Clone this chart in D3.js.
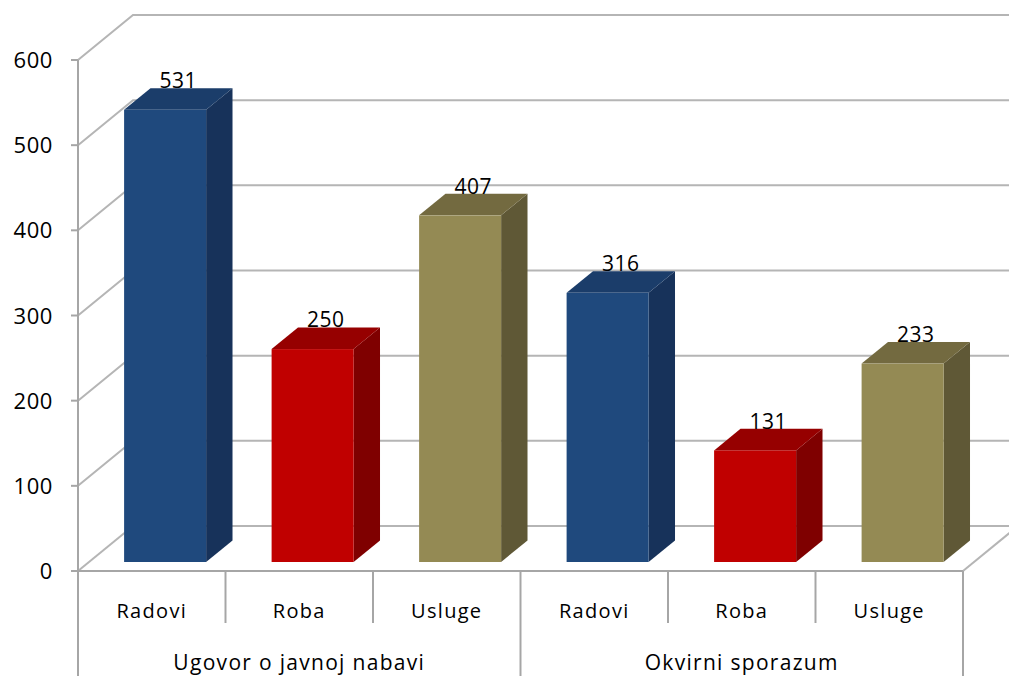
<!DOCTYPE html>
<html>
<head>
<meta charset="utf-8">
<script src="https://cdn.jsdelivr.net/npm/d3@7"></script>
<style>
  html, body { margin: 0; padding: 0; background: #fff; }
  svg { display: block; }
  text { font-family: "Open Sans", Lato, sans-serif; fill: #000; }
</style>
</head>
<body>
<svg id="chart" width="1009" height="678"></svg>
<script>
// Contract counts by type, grouped by procedure
const groups = ["Ugovor o javnoj nabavi", "Okvirni sporazum"];
const categories = ["Radovi", "Roba", "Usluge"];
const valuesUgovor = [531, 250, 407];
const valuesOkvirni = [316, 131, 233];
const yTicks = [0, 100, 200, 300, 400, 500, 600];

const palette = {
  Radovi: { front: "#1f497d", side: "#17325a", top: "#1b3d6a" },
  Roba:   { front: "#c00000", side: "#7f0000", top: "#960000" },
  Usluge: { front: "#948a54", side: "#5f5836", top: "#736a40" }
};

const rows = [];
groups.forEach((g, gi) => {
  const vals = gi === 0 ? valuesUgovor : valuesOkvirni;
  categories.forEach((c, ci) => rows.push({ key: g + "|" + c, group: g, cat: c, value: vals[ci] }));
});

const svg = d3.select("#chart");

// Front plane geometry
const left = 78, right = 963, floorY = 571, topY = 60;
const depthX = 55, depthY = -45;   // full depth of the box
const y = d3.scaleLinear().domain([0, 600]).range([floorY, topY]);
const x = d3.scaleBand().domain(rows.map(d => d.key)).range([left, right]);
const gx = d3.scaleBand().domain(groups).range([left, right]);

const off = t => [depthX * t, depthY * t];
const grid = "#b5b5b5";

// Back wall and left wall gridlines
const walls = svg.append("g").attr("stroke", grid).attr("stroke-width", 2).attr("fill", "none");
yTicks.forEach(v => {
  const yy = y(v);
  if (v > 0) {
    walls.append("path").attr("d", `M${left},${yy} L${left + depthX},${yy + depthY} L1012,${yy + depthY}`);
  } else {
    walls.append("path").attr("d", `M${left + depthX},${yy + depthY} L1012,${yy + depthY}`);
    walls.append("path").attr("d", `M${left},${yy} L${left + depthX},${yy + depthY}`);
    walls.append("path").attr("d", `M${right},${yy} L${right + depthX},${yy + depthY}`);
  }
});

// 3D bars
const d0 = 0.2, d1 = 0.68;
const bars = svg.append("g");
rows.forEach(d => {
  const col = palette[d.cat];
  const bw = x.bandwidth();
  const fx0 = x(d.key) + bw * 0.238;
  const fx1 = fx0 + bw * 0.556;
  const [ax, ay] = off(d0);
  const [bx, by] = off(d1);
  const yt = y(d.value), yb = y(0);
  const g = bars.append("g");
  // right side face
  g.append("path").attr("fill", col.side)
    .attr("d", `M${fx1 + ax},${yb + ay} L${fx1 + bx},${yb + by} L${fx1 + bx},${yt + by} L${fx1 + ax},${yt + ay} Z`);
  // top face
  g.append("path").attr("fill", col.top)
    .attr("d", `M${fx0 + ax},${yt + ay} L${fx1 + ax},${yt + ay} L${fx1 + bx},${yt + by} L${fx0 + bx},${yt + by} Z`);
  // front face
  g.append("rect").attr("fill", col.front)
    .attr("x", fx0 + ax).attr("y", yt + ay).attr("width", fx1 - fx0).attr("height", yb - yt);
  // value label above the top face
  const [mx] = off((d0 + d1) / 2);
  g.append("text").attr("x", (fx0 + fx1) / 2 + mx).attr("y", yt + by)
    .attr("text-anchor", "middle").attr("font-size", 21).attr("letter-spacing", 0.6).text(d.value);
});

// Front axes
const axes = svg.append("g").attr("stroke", "#a6a6a6").attr("stroke-width", 2).attr("fill", "none");
axes.append("line").attr("x1", left).attr("x2", left).attr("y1", topY).attr("y2", 676);
axes.append("line").attr("x1", left).attr("x2", right).attr("y1", floorY).attr("y2", floorY);
yTicks.forEach(v => axes.append("line").attr("x1", left - 7).attr("x2", left).attr("y1", y(v)).attr("y2", y(v)));
rows.forEach((d, i) => {
  if (i % 3 !== 0) axes.append("line").attr("x1", x(d.key)).attr("x2", x(d.key)).attr("y1", floorY).attr("y2", 623);
});
groups.forEach(g => axes.append("line").attr("x1", gx(g) + gx.bandwidth()).attr("x2", gx(g) + gx.bandwidth()).attr("y1", floorY).attr("y2", 676));

// Y tick labels
svg.append("g").selectAll("text").data(yTicks).join("text")
  .attr("x", 53).attr("y", v => y(v) + 8).attr("text-anchor", "end").attr("font-size", 22)
  .attr("letter-spacing", 0.6).text(v => v);

// Category labels
svg.append("g").selectAll("text").data(rows).join("text")
  .attr("x", d => x(d.key) + x.bandwidth() / 2).attr("y", 618).attr("text-anchor", "middle")
  .attr("font-size", 20).attr("letter-spacing", 1.3).text(d => d.cat);

// Group labels
svg.append("g").selectAll("text").data(groups).join("text")
  .attr("x", g => gx(g) + gx.bandwidth() / 2).attr("y", 670).attr("text-anchor", "middle")
  .attr("font-size", 21).attr("letter-spacing", 1.3).text(g => g);
</script>
</body>
</html>
